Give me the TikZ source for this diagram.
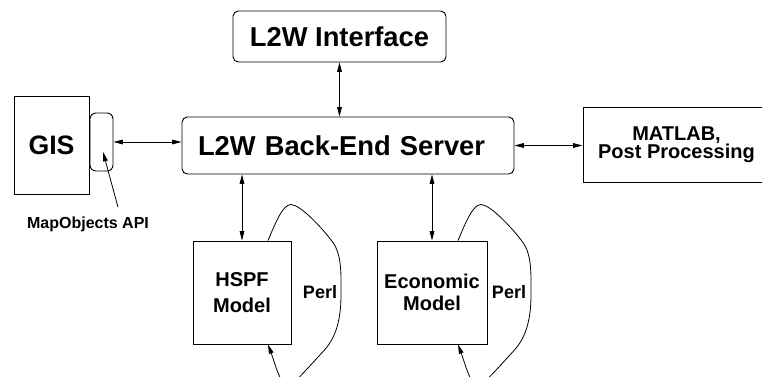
\documentclass[tikz,border=0pt]{standalone}
\usepackage{fontspec}
\setmainfont{Liberation Sans}
\usetikzlibrary{arrows.meta, calc}

\newcommand{\setfs}[2]{\fontsize{#1}{#2}\selectfont}

\tikzset{
  blk/.style={draw, line width=0.7pt, align=center, inner sep=0pt},
  rblk/.style={blk, rounded corners=4pt},
  txt/.style 2 args={font=\bfseries\setfs{#1}{#2}},
  link/.style={{Triangle[length=7pt,width=3.5pt]}-{Triangle[length=7pt,width=3.5pt]}, line width=0.6pt},
  perl/.style={-{Triangle[length=7pt,width=3.5pt]}, line width=0.6pt},
}

\begin{document}
\begin{tikzpicture}[x=0.75pt, y=0.75pt]
  \useasboundingbox (0,0) rectangle (762,377);
  \clip (0,0) rectangle (762,377);

  % boxes
  \node[rblk, txt={20.5}{24}, minimum width=159.75pt, minimum height=38.25pt] (iface) at (339.5,340.5) {L2W Interface};
  \node[rblk, txt={20.5}{24}, minimum height=42.75pt, text width=225pt, inner xsep=12pt, align=left] (server) at (348,231.5) {L2W Back-End Server};
  \node[blk, txt={20}{24}, minimum width=56.25pt, minimum height=73.5pt] (gis) at (51.5,232) {GIS};
  \node[rblk, rounded corners=4.5pt, minimum width=17.25pt, minimum height=43.5pt] (api) at (101.5,235) {};
  \node[blk, txt={15}{13.7}, minimum width=140.25pt, minimum height=56.25pt] (matlab) at (676.5,232) {MATLAB,\\Post Processing};
  \node[blk, txt={15}{20}, minimum width=73.5pt, minimum height=77.25pt] (hspf) at (242,84.5) {HSPF\\Model};
  \node[blk, txt={15}{17}, minimum width=82.5pt, minimum height=77.25pt] (econ) at (432,84.5) {Economic\\Model};

  % labels
  \node[txt={13.5}{16}] (perl1) at (320,85) {Perl};
  \node[txt={13.5}{16}] (perl2) at (509,85) {Perl};
  \node[txt={12}{14}] (apilabel) at (88,153) {MapObjects API};
  \coordinate (apitip) at (103,225);

  % links to the server
  \draw[link] (iface.south) -- (iface.south |- server.north);
  \draw[link] (api.east) -- (api.east -| server.west);
  \draw[link] (server.east) -- (server.east -| matlab.west);
  \draw[link] (hspf.north) -- (hspf.north |- server.south);
  \draw[link] (econ.north) -- (econ.north |- server.south);

  \draw[perl] ([xshift=22.5pt,yshift=3.5pt]apilabel.north) -- (apitip);

  % model loops
  \foreach \m in {hspf,econ}{
    \draw[perl] ($(\m.north)+(26,0)$)
      .. controls ($(\m.north)+(34,19)$) and ($(\m.north)+(41,36)$) .. ($(\m.north)+(49,36)$)
      .. controls ($(\m.north)+(58,36)$) and ($(\m.north)+(80,13)$) .. ($(\m.north)+(91,-2)$)
      .. controls ($(\m.north)+(100,-15)$) and ($(\m.north)+(99,-34)$) .. ($(\m.north)+(99,-54)$)
      .. controls ($(\m.north)+(99,-79)$) and ($(\m.north)+(94,-97)$) .. ($(\m.north)+(82,-110)$)
      .. controls ($(\m.north)+(70,-123)$) and ($(\m.north)+(56,-139)$) .. ($(\m.north)+(48,-145)$)
      .. controls ($(\m.north)+(40,-151)$) and ($(\m.south)+(32,-16)$) .. ($(\m.south)+(26,0)$);
  }
\end{tikzpicture}
\end{document}
